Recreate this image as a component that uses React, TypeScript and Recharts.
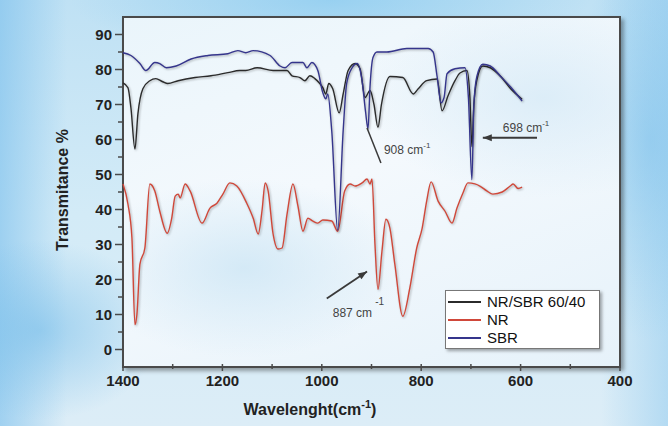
import { LineChart, Line, XAxis, YAxis, ReferenceLine } from "recharts";

// NR/SBR 60/40 blend (black)
const blendX = [1400, 1390, 1384, 1376, 1370, 1360, 1346, 1334, 1320, 1310, 1289, 1255, 1223, 1189, 1165, 1153, 1130, 1098, 1070, 1060, 1044, 1034, 1024, 1014, 1004, 998, 992, 986, 978, 965, 957, 947, 933, 923, 913, 903, 895, 887, 880, 863, 837, 816, 806, 789, 768, 758, 746, 732, 722, 708, 702, 698, 694, 688, 676, 661, 640, 620, 597];
const blendY = [76.2, 74.8, 69, 57.3, 67.3, 74.5, 76.8, 77.4, 76.5, 76, 76.8, 77.7, 78.2, 79.1, 79.7, 79.7, 80.5, 79.7, 79.7, 78.2, 77.7, 76.8, 78.2, 77.4, 76, 74.8, 73, 76, 74.5, 67.6, 73, 79.7, 81.7, 80.2, 72, 74, 70, 63.5, 70, 78, 77.7, 73, 74.5, 76.8, 77.3, 68.2, 72.5, 76.8, 79, 79.7, 72, 58, 70, 77, 81, 80.5, 78, 74.5, 71.5];

// NR (red)
const nrX = [1400, 1390, 1382, 1376, 1372, 1366, 1356, 1346, 1336, 1326, 1311, 1302, 1295, 1289, 1285, 1275, 1265, 1241, 1225, 1211, 1199, 1185, 1171, 1151, 1138, 1128, 1120, 1114, 1108, 1098, 1088, 1080, 1070, 1058, 1048, 1038, 1028, 1018, 1008, 998, 980, 968, 954, 943, 933, 919, 909, 903, 899, 893, 887, 879, 871, 863, 853, 837, 823, 809, 798, 789, 780, 766, 752, 738, 728, 716, 706, 692, 682, 668, 656, 637, 621, 615, 605, 597];
const nrY = [47.3, 41.5, 31.8, 7.1, 10, 24.3, 29, 47.3, 45.3, 39.5, 33.2, 37.5, 43.8, 44.4, 43.3, 47.3, 45.3, 36.1, 40.4, 41.8, 44.4, 47.6, 46.7, 41.8, 37.5, 33, 40, 47.6, 45.3, 33, 28.7, 29, 38.6, 47.3, 41, 33.8, 37.5, 36.7, 36.1, 37, 36.7, 33.8, 45.3, 47.3, 46.7, 47.6, 48.7, 47.3, 48.7, 30, 17.2, 28, 37.2, 34.7, 24.3, 9.5, 17.5, 29, 34.7, 42.4, 47.9, 42.4, 39.5, 36.1, 40.4, 44.7, 47.6, 47.3, 46.7, 45.3, 44.4, 45, 46.7, 47.3, 46, 46.4];

// SBR (blue)
const sbrX = [1400, 1384, 1366, 1354, 1336, 1326, 1313, 1293, 1263, 1229, 1189, 1169, 1153, 1138, 1104, 1084, 1074, 1060, 1038, 1030, 1020, 1008, 998, 992, 988, 980, 968, 957, 950, 939, 929, 919, 912, 907, 903, 897, 889, 869, 829, 786, 776, 768, 760, 754, 748, 732, 712, 705, 698, 694, 688, 676, 661, 640, 620, 597];
const sbrY = [84.8, 84, 81.7, 79.7, 82, 81.7, 80.5, 81, 83, 84, 84.5, 85.4, 84.8, 85.4, 84, 81, 80.5, 82, 82, 80.5, 82, 79.7, 73.4, 71.6, 73, 62.5, 34, 62.5, 76, 80.5, 81.7, 76.8, 68, 63, 75, 83.4, 85, 85, 86, 86, 85, 78, 70.5, 72, 78.8, 80.2, 80.5, 72, 48.5, 70, 78, 81.5, 81, 78, 75, 71];

const xTicks = [1400, 1300, 1200, 1100, 1000, 900, 800, 700, 600, 500, 400];
const yTicks = [0, 5, 10, 15, 20, 25, 30, 35, 40, 45, 50, 55, 60, 65, 70, 75, 80, 85, 90];

const series = [
  { name: "NR/SBR 60/40", xs: blendX, ys: blendY, color: "#2b2b2b" },
  { name: "NR", xs: nrX, ys: nrY, color: "#d0483a" },
  { name: "SBR", xs: sbrX, ys: sbrY, color: "#35358c" },
];

const toPoints = (xs: number[], ys: number[]) => xs.map((w, i) => ({ w, t: ys[i] }));

const FONT = "'Liberation Sans', Arial, sans-serif";
const AXIS = "#4a4a4a";

function YTick(props: any) {
  const { x, y, payload } = props;
  const v = payload.value as number;
  const major = v % 10 === 0;
  const ax = x + 10;
  return (
    <g>
      <line x1={ax - (major ? 8 : 5)} x2={ax} y1={y} y2={y} stroke={AXIS} strokeWidth={1.5} />
      {major && (
        <text x={x - 1} y={y} dy="0.35em" textAnchor="end" fontFamily={FONT} fontWeight="bold" fontSize={15} fill="#222">
          {v}
        </text>
      )}
    </g>
  );
}

function XTick(props: any) {
  const { x, y, payload } = props;
  const v = payload.value as number;
  const major = v % 200 === 0;
  const ay = y - 8;
  return (
    <g>
      <line x1={x} x2={x} y1={ay - 3} y2={ay + (major ? 4 : 2)} stroke={AXIS} strokeWidth={1.5} />
      {major && (
        <text x={x} y={y} dy="0.75em" textAnchor="middle" fontFamily={FONT} fontWeight="bold" fontSize={15} fill="#222">
          {v}
        </text>
      )}
    </g>
  );
}

function YTitle(props: any) {
  const { viewBox } = props;
  const cx = 62;
  const cy = viewBox.y + viewBox.height / 2 - 2;
  return (
    <text x={cx} y={cy} transform={`rotate(-90 ${cx} ${cy})`} textAnchor="middle" dy="0.35em" fontFamily={FONT} fontWeight="bold" fontSize={16} fill="#222">
      Transmitance %
    </text>
  );
}

function XTitle() {
  return (
    <text x={310} y={415} textAnchor="middle" fontFamily={FONT} fontWeight="bold" fontSize={16} fill="#222">
      Wavelenght(cm
      <tspan fontSize={11} dy={-7}>-1</tspan>
      <tspan dy={7}>)</tspan>
    </text>
  );
}

function arrowHead(x1: number, y1: number, x2: number, y2: number, color: string) {
  const a = Math.atan2(y2 - y1, x2 - x1);
  const L = 9;
  const W = 3.5;
  const bx = x2 - L * Math.cos(a);
  const by = y2 - L * Math.sin(a);
  const px = -Math.sin(a) * W;
  const py = Math.cos(a) * W;
  return <polygon points={`${x2},${y2} ${bx + px},${by + py} ${bx - px},${by - py}`} fill={color} />;
}

const annColor = "#3a3a3a";

const shape908 = (p: any) => (
  <g>
    <line x1={p.x1} y1={p.y1} x2={p.x2} y2={p.y2} stroke={annColor} strokeWidth={1.5} />
    <text x={p.x2 + 3} y={p.y2 - 9} fontFamily={FONT} fontSize={12} fill="#444">
      908 cm<tspan fontSize={8} dy={-6}>-1</tspan>
    </text>
  </g>
);

const shape698 = (p: any) => (
  <g>
    <line x1={p.x1} y1={p.y1} x2={p.x2} y2={p.y2} stroke={annColor} strokeWidth={1.8} />
    {arrowHead(p.x1, p.y1, p.x2, p.y2, annColor)}
    <text x={p.x2 + 20} y={p.y2 - 6} fontFamily={FONT} fontSize={12} fill="#444">
      698 cm<tspan fontSize={8} dy={-6}>-1</tspan>
    </text>
  </g>
);

const shape887 = (p: any) => (
  <g>
    <line x1={p.x1} y1={p.y1} x2={p.x2} y2={p.y2} stroke={annColor} strokeWidth={1.8} />
    {arrowHead(p.x1, p.y1, p.x2, p.y2, annColor)}
    <text x={p.x1 + 6} y={p.y1 + 19} fontFamily={FONT} fontSize={12} fill="#444">
      887 cm<tspan fontSize={10} dx={3} dy={-12}>-1</tspan>
    </text>
  </g>
);

function LegendBox() {
  return (
    <div
      style={{
        position: "absolute",
        left: 445,
        top: 290,
        width: 155,
        boxSizing: "border-box",
        background: "#fff",
        border: "1px solid #777",
        boxShadow: "2px 2px 3px rgba(0,0,0,0.35)",
        padding: "2px 0 1px 2px",
        fontFamily: FONT,
        fontSize: 15,
        color: "#111",
        lineHeight: "18px",
      }}
    >
      {series.map((s) => (
        <div key={s.name} style={{ display: "flex", alignItems: "center" }}>
          <span style={{ display: "inline-block", width: 33, height: 2, background: s.color, marginRight: 6 }} />
          <span>{s.name}</span>
        </div>
      ))}
    </div>
  );
}

export default function App() {
  return (
    <div
      style={{
        position: "absolute",
        left: 0,
        top: 0,
        width: 668,
        height: 426,
        overflow: "hidden",
        background:
          "radial-gradient(ellipse 120px 90px at 40px 330px, rgba(110,185,232,0.55), transparent)," +
          "radial-gradient(ellipse 80px 200px at 650px 140px, rgba(120,190,235,0.5), transparent)," +
          "radial-gradient(ellipse 260px 60px at 330px 0px, rgba(120,195,238,0.55), transparent)," +
          "linear-gradient(90deg, rgba(120,190,236,0.6) 0%, rgba(255,255,255,0) 10%, rgba(255,255,255,0) 90%, rgba(140,200,238,0.5) 100%)," +
          "linear-gradient(180deg, #bfe1f4 0%, #d3ebf7 50%, #dcedf7 100%)",
      }}
    >
      <div
        style={{
          position: "absolute",
          left: 122,
          top: 16,
          width: 499,
          height: 352,
          boxSizing: "border-box",
          border: `2px solid ${AXIS}`,
          boxShadow: "3px 3px 4px rgba(0,0,0,0.35)",
          background:
            "radial-gradient(ellipse 160px 90px at 120px 250px, rgba(205,230,245,0.8), transparent)," +
            "radial-gradient(ellipse 180px 100px at 420px 80px, rgba(210,232,246,0.7), transparent)," +
            "linear-gradient(160deg, #eaf5fb 0%, #f4f9fd 45%, #e6f2fa 100%)",
        }}
      />
      <LineChart width={668} height={426} margin={{ top: 17, right: 48, bottom: 29, left: 0 }} style={{ position: "absolute", left: 0, top: 0 }}>
        <XAxis
          dataKey="w"
          type="number"
          domain={[400, 1400]}
          reversed
          ticks={xTicks}
          interval={0}
          axisLine={false}
          tickLine={false}
          tickSize={6}
          tickMargin={2}
          tick={<XTick />}
          height={30}
          allowDuplicatedCategory={false}
          label={<XTitle />}
        />
        <YAxis
          type="number"
          domain={[-5, 95]}
          ticks={yTicks}
          interval={0}
          axisLine={false}
          tickLine={false}
          tickSize={8}
          tickMargin={2}
          tick={<YTick />}
          width={123}
          label={<YTitle />}
        />
        {series.map((s) => (
          <Line
            key={s.name}
            data={toPoints(s.xs, s.ys)}
            dataKey="t"
            name={s.name}
            type="monotone"
            stroke={s.color}
            strokeWidth={1.4}
            dot={false}
            isAnimationActive={false}
            style={{ filter: "drop-shadow(1px 1.5px 1px rgba(0,0,0,0.3))" }}
          />
        ))}
        <ReferenceLine segment={[{ x: 909, y: 63.3 }, { x: 881, y: 53.3 }]} shape={shape908} ifOverflow="visible" />
        <ReferenceLine segment={[{ x: 567, y: 60.5 }, { x: 676, y: 60.5 }]} shape={shape698} ifOverflow="visible" />
        <ReferenceLine segment={[{ x: 990, y: 14.6 }, { x: 909, y: 22.3 }]} shape={shape887} ifOverflow="visible" />
      </LineChart>
      <LegendBox />
    </div>
  );
}
